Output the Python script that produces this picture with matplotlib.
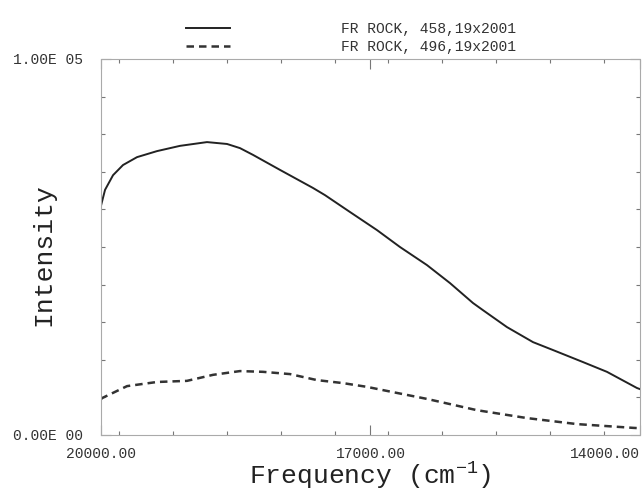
import matplotlib
matplotlib.use("Agg")
import matplotlib.pyplot as plt
from matplotlib.ticker import MultipleLocator, FixedLocator

plt.rcParams["font.family"] = ["Liberation Mono", "DejaVu Sans Mono"]
plt.rcParams["mathtext.fontset"] = "custom"
plt.rcParams["mathtext.rm"] = "Liberation Mono"
plt.rcParams["mathtext.default"] = "regular"

# spectrum (frequency in cm-1, intensity)
freq_458 = [20000, 19955, 19866, 19755, 19599, 19377, 19121, 18820, 18597,
            18453, 18308, 18007, 17640, 17507, 17228, 16928, 16672, 16372,
            16115, 15859, 15748, 15481, 15191, 14969, 14635, 14368, 14034,
            14000]
int_458 = [61000, 65200, 69100, 71800, 73900, 75500, 76900, 77900, 77400,
           76300, 74500, 70500, 65700, 63800, 59300, 54500, 50000, 45200,
           40400, 35100, 33200, 28700, 24700, 22600, 19400, 16800, 12500,
           12200]

freq_496 = [20000, 19989, 19710, 19377, 19043, 18753, 18453, 18197, 17896,
            17596, 17306, 17039, 16750, 16372, 15815, 15258, 14702, 14078,
            14000]
int_496 = [9500, 9800, 13000, 14100, 14400, 16000, 17000, 16800, 16200,
           14600, 13800, 12800, 11400, 9600, 6600, 4500, 2900, 1900, 1800]

labels = ["FR ROCK, 458,19x2001", "FR ROCK, 496,19x2001"]

fig = plt.figure(figsize=(6.43, 4.92), dpi=100)
ax = fig.add_axes([101 / 643, 1 - 435 / 492, 539 / 643, 376 / 492])

ln1, = ax.plot(freq_458, int_458, color="#222222", lw=1.4)
ln2, = ax.plot(freq_496, int_496, color="#333333", lw=1.8,
               linestyle=(0, (3, 2)))

ax.set_xlim(20000, 14000)
ax.set_ylim(0, 100000)

for s in ax.spines.values():
    s.set_color("#aaaaaa")
    s.set_linestyle((0, (2, 1)))
    s.set_linewidth(0.8)

ax.xaxis.set_major_locator(FixedLocator([20000, 17000, 14000]))
ax.xaxis.set_minor_locator(MultipleLocator(600))
ax.yaxis.set_major_locator(FixedLocator([0, 100000]))
ax.yaxis.set_minor_locator(MultipleLocator(10000))
ax.tick_params(which="both", direction="in", top=True, right=True,
               color="#777777", width=0.8)
ax.tick_params(which="major", length=7)
ax.tick_params(which="minor", length=3)
ax.tick_params(axis="both", labelsize=10.5, labelcolor="#333333", pad=9)
ax.yaxis.set_tick_params(pad=13)

ax.set_xticklabels(["20000.00", "17000.00", "14000.00"])
ax.set_yticklabels(["0.00E 00", "1.00E 05"])
xl = ax.get_xticklabels()
xl[2].set_horizontalalignment("right")
xl[2].set_x(14000)

ax.set_xlabel("Frequency (cm$^{-1}$)", fontsize=19, labelpad=-1,
              color="#222222")
ax.set_ylabel("Intensity", fontsize=19, color="#222222")
ax.yaxis.set_label_coords(-0.084, 0.48)

fig.legend([ln1, ln2], labels, loc="upper left",
           bbox_to_anchor=(186 / 643, 1 - 22 / 492), frameon=False,
           fontsize=10.5, handlelength=3.0, handletextpad=7.6,
           labelspacing=0.3, borderpad=0, borderaxespad=0,
           labelcolor="#333333")

fig.savefig("out.png", dpi=100)
